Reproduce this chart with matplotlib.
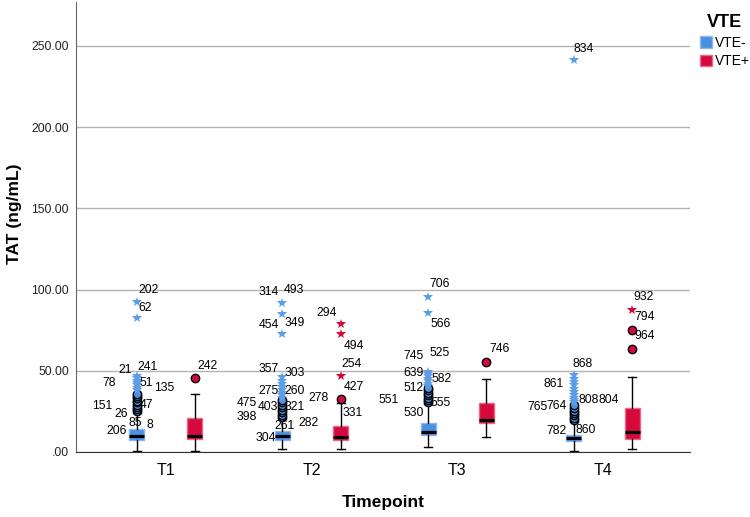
import matplotlib
matplotlib.use("Agg")
import matplotlib.pyplot as plt
from matplotlib.patches import Patch
from matplotlib import transforms
from matplotlib.ticker import FuncFormatter

plt.rcParams["font.family"] = ["Liberation Sans", "DejaVu Sans"]

timepoints = ["T1", "T2", "T3", "T4"]
groups = ["VTE-", "VTE+"]
colors = ["#4a90e2", "#d5093c"]
edge_colors = ["#8ab8ee", "#e8698a"]
star_colors = ["#5d9ce8", "#d5093c"]

# box statistics per timepoint: [whisker low, Q1, median, Q3, whisker high]
neg_box = [[0.8, 7.5, 9.8, 14.3, 24.0],
           [1.7, 7.4, 9.6, 12.9, 20.5],
           [3.3, 10.5, 12.5, 18.0, 29.5],
           [0.8, 7.0, 8.8, 10.5, 18.5]]
pos_box = [[0.8, 7.8, 9.8, 20.7, 35.5],
           [1.7, 7.4, 9.0, 16.0, 30.0],
           [9.0, 17.7, 19.7, 30.4, 45.0],
           [1.7, 8.0, 12.1, 26.9, 46.4]]

# outliers (circles) and extreme values (stars), TAT ng/mL
neg_circles = [[25.0, 26.5, 28.0, 29.0, 30.5, 31.5, 33.0, 34.5, 36.0],
               [21.7, 23.0, 24.5, 26.0, 27.5, 29.0, 30.5, 32.0],
               [30.5, 32.0, 33.5, 35.0, 36.5, 38.0, 39.2],
               [19.7, 21.0, 22.5, 24.0, 25.5, 27.0, 29.0]]
neg_stars = [[38.0, 39.5, 41.0, 42.5, 44.0, 45.5, 47.0, 82.5, 92.5],
             [33.5, 35.0, 36.5, 38.0, 40.0, 42.0, 44.0, 46.4, 72.5, 85.0, 92.0],
             [40.5, 42.0, 43.5, 45.0, 46.5, 48.0, 49.4, 85.4, 95.2],
             [30.5, 32.0, 33.5, 35.0, 37.0, 39.0, 41.0, 43.0, 45.0, 47.4, 241.4]]
pos_circles = [[45.7], [32.4], [55.3], [63.4, 75.0]]
pos_stars = [[], [46.8, 72.7, 78.6], [], [87.4]]

# case labels: (case id, height in ng/mL, horizontal shift in px from the box)
neg_labels = [
    [("202", 99.8, 12), ("62", 88.9, 9), ("21", 50.5, -11), ("241", 52.6, 11),
     ("78", 42.3, -27), ("51", 42.2, 10), ("135", 39.1, 28), ("151", 28.1, -34),
     ("47", 28.9, 10), ("26", 23.5, -15), ("85", 17.7, -1), ("8", 16.6, 13),
     ("206", 13.1, -20)],
    [("314", 98.3, -14), ("493", 99.8, 12), ("454", 78.2, -14), ("349", 79.6, 12),
     ("357", 51.3, -14), ("303", 48.8, 12), ("275", 37.7, -14), ("260", 37.7, 12),
     ("475", 30.4, -36), ("403", 27.9, -14), ("321", 27.9, 12), ("398", 21.7, -36),
     ("261", 16.2, 2), ("304", 8.4, -17), ("278", 33.4, 36), ("282", 17.7, 26)],
    [("706", 103.4, 12), ("566", 78.6, 13), ("745", 59.1, -14), ("525", 61.1, 12),
     ("639", 48.8, -14), ("582", 44.8, 14), ("512", 39.2, -14), ("551", 32.0, -39),
     ("555", 30.4, 13), ("530", 23.8, -14)],
    [("834", 248.2, 10), ("868", 54.2, 9), ("861", 41.9, -20), ("765", 28.0, -36),
     ("764", 28.3, -17), ("808", 32.0, 15), ("804", 32.0, 35), ("782", 12.9, -17),
     ("860", 13.5, 12)],
]
pos_labels = [
    [("242", 53.1, 13)],
    [("294", 85.4, -14), ("494", 65.3, 13), ("254", 54.2, 11), ("427", 40.2, 13),
     ("331", 23.8, 12)],
    [("746", 63.6, 13)],
    [("932", 95.3, 12), ("794", 83.3, 13), ("964", 71.6, 13)],
]

fig = plt.figure(figsize=(7.5, 5.17), dpi=100)
ax = fig.add_axes([76 / 750, 65 / 517, 614 / 750, 450 / 517])

offset = 0.2
series = [(neg_box, neg_circles, neg_stars, neg_labels, -offset),
          (pos_box, pos_circles, pos_stars, pos_labels, offset)]

for g, (boxes, circles, stars, labels, shift) in enumerate(series):
    stats = []
    for b in boxes:
        stats.append(dict(whislo=b[0], q1=b[1], med=b[2], q3=b[3], whishi=b[4], fliers=[]))
    pos = [i + shift for i in range(len(timepoints))]
    ax.bxp(stats, positions=pos, widths=0.103, capwidths=0.055, patch_artist=True,
           showfliers=False,
           boxprops=dict(facecolor=colors[g], edgecolor=edge_colors[g], linewidth=1),
           medianprops=dict(color="black", linewidth=2.3),
           whiskerprops=dict(color="black", linewidth=1),
           capprops=dict(color="black", linewidth=1), zorder=3)
    for i in range(len(timepoints)):
        ax.plot([pos[i]] * len(circles[i]), circles[i], "o", ms=6, mfc=colors[g],
                mec="black", mew=1, zorder=4)
        ax.plot([pos[i]] * len(stars[i]), stars[i], "*", ms=7, color=star_colors[g],
                mew=0, zorder=4)
        for text, y, dx in labels[i]:
            tr = transforms.offset_copy(ax.transData, fig=fig, x=dx, y=0, units="dots")
            ax.text(pos[i], y, text, transform=tr, ha="center", va="center",
                    fontsize=8.7, color="black", zorder=5)

ax.set_xlim(-0.616, 3.598)
ax.set_ylim(0, 277)
ax.set_xticks(range(len(timepoints)))
ax.set_xticklabels(timepoints, fontsize=11.5)
ax.set_yticks([0, 50, 100, 150, 200, 250])
ax.yaxis.set_major_formatter(FuncFormatter(lambda v, p: ".00" if v == 0 else f"{v:.2f}"))
ax.tick_params(axis="y", length=0, pad=5, labelsize=8.7, labelcolor="#222222")
ax.tick_params(axis="x", length=0, pad=8)
ax.yaxis.grid(True, color="#b4b4b4", linewidth=1)
ax.set_axisbelow(True)
for s in ["top", "right"]:
    ax.spines[s].set_visible(False)
ax.spines["left"].set_color("#666666")
ax.spines["bottom"].set_color("#333333")

ax.set_xlabel("Timepoint", fontsize=12.5, fontweight="bold", labelpad=12)
ax.set_ylabel("TAT (ng/mL)", fontsize=12.5, fontweight="bold")
ax.yaxis.set_label_coords(-0.088, 0.53)

handles = [Patch(facecolor=colors[g], edgecolor=edge_colors[g], label=groups[g])
           for g in range(len(groups))]
leg = fig.legend(handles=handles, title="VTE", loc="upper left",
                 bbox_to_anchor=(690 / 750, 1 - 4 / 517), frameon=False,
                 fontsize=10, handlelength=0.9, handleheight=0.9,
                 handletextpad=0.2, labelspacing=0.35, borderpad=0.2)
leg.get_title().set_fontweight("bold")
leg.get_title().set_fontsize(13)

fig.savefig("out.png", dpi=100)
